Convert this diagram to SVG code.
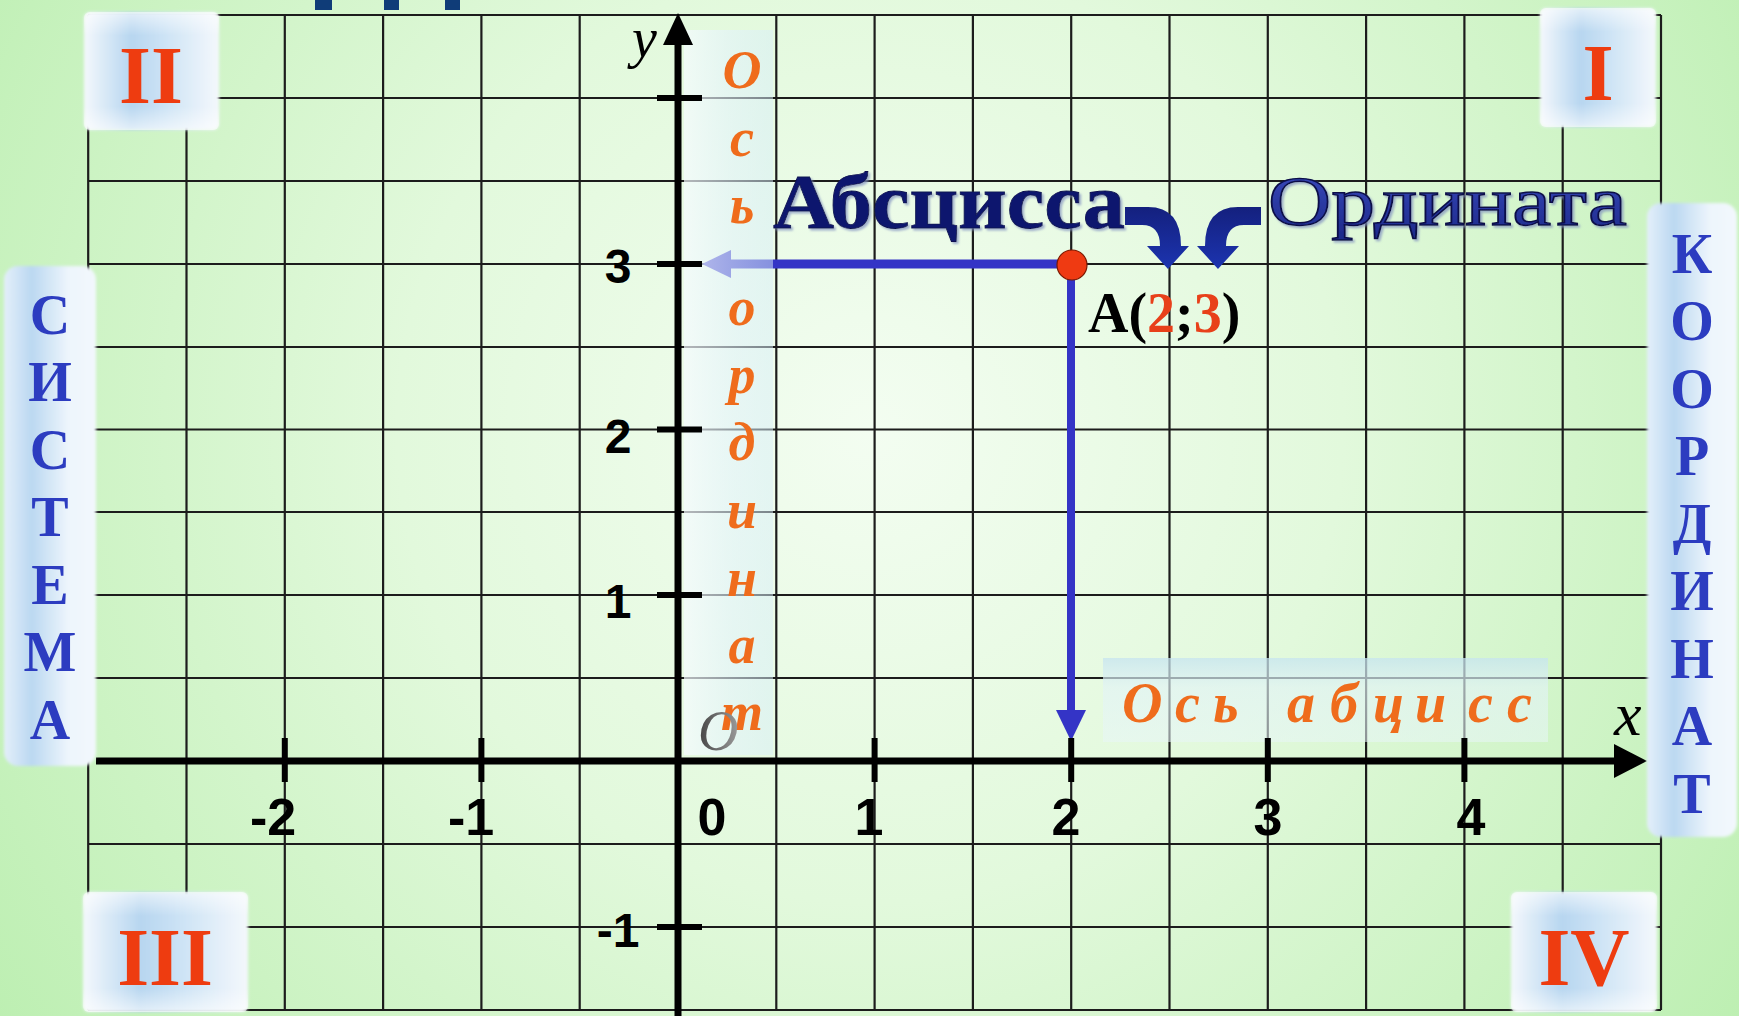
<svg xmlns="http://www.w3.org/2000/svg" width="1739" height="1016" viewBox="0 0 1739 1016">
<defs>
<radialGradient id="bg" cx="870" cy="430" r="1050" gradientUnits="userSpaceOnUse">
<stop offset="0" stop-color="#f3fdf1"/>
<stop offset="0.45" stop-color="#e2f9dc"/>
<stop offset="1" stop-color="#bdefb2"/>
</radialGradient>
<linearGradient id="qbox" x1="0" y1="0" x2="1" y2="0">
<stop offset="0" stop-color="#f4f8fc"/>
<stop offset="0.35" stop-color="#b7d6f0"/>
<stop offset="0.6" stop-color="#cde3f5"/>
<stop offset="1" stop-color="#f4f8fc"/>
</linearGradient>
<linearGradient id="qfade" x1="0" y1="0" x2="0" y2="1">
<stop offset="0" stop-color="#ffffff" stop-opacity="0.6"/>
<stop offset="0.2" stop-color="#ffffff" stop-opacity="0"/>
<stop offset="0.8" stop-color="#ffffff" stop-opacity="0"/>
<stop offset="1" stop-color="#ffffff" stop-opacity="0.6"/>
</linearGradient>
<linearGradient id="vbox" x1="0" y1="0" x2="1" y2="0">
<stop offset="0" stop-color="#e4effa"/>
<stop offset="0.3" stop-color="#bbd8f1"/>
<stop offset="0.7" stop-color="#edf5fc"/>
<stop offset="1" stop-color="#f3f8fd"/>
</linearGradient>
<linearGradient id="strip" x1="0" y1="0" x2="1" y2="0">
<stop offset="0" stop-color="#f6fbff" stop-opacity="0.7"/>
<stop offset="0.5" stop-color="#e4f3fb" stop-opacity="0.6"/>
<stop offset="1" stop-color="#d8eef8" stop-opacity="0.5"/>
</linearGradient>
<linearGradient id="hstrip" x1="0" y1="0" x2="0" y2="1">
<stop offset="0" stop-color="#c6e4f0" stop-opacity="0.75"/>
<stop offset="0.35" stop-color="#e2f3f6" stop-opacity="0.65"/>
<stop offset="1" stop-color="#e8f6f8" stop-opacity="0.55"/>
</linearGradient>
<linearGradient id="ordg" x1="0" y1="0" x2="0" y2="1">
<stop offset="0" stop-color="#3c4cc0"/>
<stop offset="1" stop-color="#1c2888"/>
</linearGradient>
<linearGradient id="curv" x1="0" y1="0" x2="0" y2="1">
<stop offset="0" stop-color="#14207e"/>
<stop offset="1" stop-color="#1c34b0"/>
</linearGradient>
<linearGradient id="ogray" x1="0" y1="0" x2="1" y2="0">
<stop offset="0" stop-color="#444"/>
<stop offset="1" stop-color="#9a9a9a"/>
</linearGradient>
<filter id="soft" x="-10%" y="-10%" width="120%" height="120%">
<feGaussianBlur stdDeviation="1.5"/>
</filter>
<filter id="shadow" x="-5%" y="-20%" width="110%" height="140%">
<feDropShadow dx="2" dy="2" stdDeviation="1" flood-color="#8090c0" flood-opacity="0.7"/>
</filter>
</defs>
<style>
.grid line{stroke:#1c1c1c;stroke-width:2.2}
.axis{stroke:#000;stroke-width:7}
.tick{stroke:#000;stroke-width:6}
.num{font-family:"Liberation Sans",Arial,sans-serif;font-weight:bold;fill:#000}
.roman{font-family:"Liberation Serif","Times New Roman",serif;font-weight:bold;fill:#ee3c10;text-anchor:middle}
.vword{font-family:"Liberation Serif","Times New Roman",serif;font-weight:bold;fill:#2c3cc0;font-size:56px;text-anchor:middle}
.orange{font-family:"Liberation Serif","Times New Roman",serif;font-weight:bold;font-style:italic;fill:#ef6c1c}
.blue{fill:#3434c6}
</style>

<rect x="0" y="0" width="1739" height="1016" fill="url(#bg)"/>

<g id="title-fragments" fill="#0f3c78">
<rect x="315" y="0" width="17" height="10"/>
<rect x="384" y="0" width="15" height="10"/>
<rect x="445" y="0" width="15" height="10"/>
</g>

<g id="grid" class="grid">
<line x1="88" y1="15" x2="1661" y2="15"/>
<line x1="88" y1="98" x2="1661" y2="98"/>
<line x1="88" y1="181" x2="1661" y2="181"/>
<line x1="88" y1="264" x2="1661" y2="264"/>
<line x1="88" y1="347" x2="1661" y2="347"/>
<line x1="88" y1="429.5" x2="1661" y2="429.5"/>
<line x1="88" y1="512" x2="1661" y2="512"/>
<line x1="88" y1="595" x2="1661" y2="595"/>
<line x1="88" y1="678" x2="1661" y2="678"/>
<line x1="88" y1="844" x2="1661" y2="844"/>
<line x1="88" y1="927" x2="1661" y2="927"/>
<line x1="88" y1="1010" x2="1661" y2="1010"/>
<line x1="88.2" y1="15" x2="88.2" y2="1010"/>
<line x1="186.5" y1="15" x2="186.5" y2="1010"/>
<line x1="284.8" y1="15" x2="284.8" y2="1010"/>
<line x1="383.1" y1="15" x2="383.1" y2="1010"/>
<line x1="481.4" y1="15" x2="481.4" y2="1010"/>
<line x1="579.7" y1="15" x2="579.7" y2="1010"/>
<line x1="776.3" y1="15" x2="776.3" y2="1010"/>
<line x1="874.6" y1="15" x2="874.6" y2="1010"/>
<line x1="972.9" y1="15" x2="972.9" y2="1010"/>
<line x1="1071.2" y1="15" x2="1071.2" y2="1010"/>
<line x1="1169.5" y1="15" x2="1169.5" y2="1010"/>
<line x1="1267.8" y1="15" x2="1267.8" y2="1010"/>
<line x1="1366.1" y1="15" x2="1366.1" y2="1010"/>
<line x1="1464.4" y1="15" x2="1464.4" y2="1010"/>
<line x1="1562.7" y1="15" x2="1562.7" y2="1010"/>
<line x1="1661" y1="15" x2="1661" y2="1010"/>
</g>

<g id="connectors">
<line x1="1073" y1="264" x2="728" y2="264" stroke="#3434c6" stroke-width="9"/>
<polygon points="702,264 731,250 731,278" class="blue"/>
<line x1="1071" y1="264" x2="1071" y2="714" stroke="#3434c6" stroke-width="8"/>
<polygon points="1071,741 1056,710 1086,710" class="blue"/>
<path d="M1125,207 L1148,207 Q1181,207 1181,246 L1189,246 L1168,269 L1147,246 L1160,246 Q1160,225 1142,225 L1125,225 Z" fill="url(#curv)"/>
<path d="M1261,207 L1238,207 Q1205,207 1205,246 L1197,246 L1218,269 L1239,246 L1226,246 Q1226,225 1244,225 L1261,225 Z" fill="url(#curv)"/>
</g>

<g id="ordinate-strip">
<rect x="684" y="30" width="89" height="725" fill="url(#strip)"/>
</g>
<g id="abscissa-strip">
<rect x="1103" y="658" width="445" height="84" fill="url(#hstrip)"/>
</g>

<g id="axes">
<line class="axis" x1="678" y1="1016" x2="678" y2="40"/>
<polygon points="678,13 663,45 693,45" fill="#000"/>
<line class="axis" x1="96" y1="761" x2="1618" y2="761"/>
<polygon points="1647,761 1614,744 1614,778" fill="#000"/>
<line class="tick" x1="657" y1="98" x2="702" y2="98"/>
<line class="tick" x1="657" y1="264" x2="702" y2="264"/>
<line class="tick" x1="657" y1="429.5" x2="702" y2="429.5"/>
<line class="tick" x1="657" y1="595" x2="702" y2="595"/>
<line class="tick" x1="657" y1="927" x2="702" y2="927"/>
<line class="tick" x1="284.8" y1="738" x2="284.8" y2="782"/>
<line class="tick" x1="481.4" y1="738" x2="481.4" y2="782"/>
<line class="tick" x1="874.6" y1="738" x2="874.6" y2="782"/>
<line class="tick" x1="1071.2" y1="738" x2="1071.2" y2="782"/>
<line class="tick" x1="1267.8" y1="738" x2="1267.8" y2="782"/>
<line class="tick" x1="1464.4" y1="738" x2="1464.4" y2="782"/>
</g>

<g id="axis-labels">
<text class="num" font-size="48" x="618" y="283" text-anchor="middle">3</text>
<text class="num" font-size="48" x="618" y="453" text-anchor="middle">2</text>
<text class="num" font-size="48" x="618" y="618" text-anchor="middle">1</text>
<text class="num" font-size="48" x="618" y="947" text-anchor="middle">-1</text>
<text class="num" font-size="52" x="273" y="835" text-anchor="middle">-2</text>
<text class="num" font-size="52" x="471" y="835" text-anchor="middle">-1</text>
<text class="num" font-size="52" x="712" y="835" text-anchor="middle">0</text>
<text class="num" font-size="52" x="869" y="835" text-anchor="middle">1</text>
<text class="num" font-size="52" x="1066" y="835" text-anchor="middle">2</text>
<text class="num" font-size="52" x="1268" y="835" text-anchor="middle">3</text>
<text class="num" font-size="52" x="1471" y="835" text-anchor="middle">4</text>
<text x="632" y="57" font-family="Liberation Serif,serif" font-style="italic" font-size="56" fill="#000">y</text>
<text x="1614" y="735" font-family="Liberation Serif,serif" font-style="italic" font-size="62" fill="#000">x</text>
</g>

<g id="ordinate-label">
<text class="orange" font-size="54" x="742 742 742 742 742 742 742 742 742 742 742" y="88 156 223 274 325 393 460 528 596 663 730" text-anchor="middle">Ось ординат</text>
</g>
<g id="origin">
<text x="698" y="750" font-family="Liberation Serif,serif" font-style="italic" font-size="56" fill="url(#ogray)">O</text>
</g>
<g id="abscissa-label">
<text class="orange" font-size="56" x="1122 1175 1213 1250 1287 1330 1373 1415 1468 1507" y="722">Ось абцисс</text>
</g>

<g id="point-A">
<circle cx="1072" cy="265" r="15" fill="#ef3a12" stroke="#7a1800" stroke-width="1.2"/>
<text x="1088" y="332" font-family="Liberation Serif,serif" font-weight="bold" font-size="56" fill="#000">A(<tspan fill="#e8401a">2</tspan>;<tspan fill="#e8401a">3</tspan>)</text>
</g>

<g id="abscissa-word" filter="url(#shadow)">
<text x="773" y="228" font-family="Liberation Serif,serif" font-weight="bold" font-size="78" fill="#0d166e" stroke="#0a0f50" stroke-width="0.8" textLength="352" lengthAdjust="spacingAndGlyphs">Абсцисса</text>
</g>
<g id="ordinate-word" filter="url(#shadow)">
<text x="1268" y="225" font-family="Liberation Serif,serif" font-size="70" fill="url(#ordg)" stroke="#0a1048" stroke-width="1.5" textLength="359" lengthAdjust="spacingAndGlyphs">Ордината</text>
</g>

<g id="quadrant-II">
<rect x="84" y="12" width="135" height="118" rx="6" fill="url(#qbox)" filter="url(#soft)"/>
<rect x="84" y="12" width="135" height="118" rx="6" fill="url(#qfade)"/>
<text class="roman" x="151" y="103" font-size="82">II</text>
</g>
<g id="quadrant-I">
<rect x="1540" y="8" width="116" height="119" rx="6" fill="url(#qbox)" filter="url(#soft)"/>
<rect x="1540" y="8" width="116" height="119" rx="6" fill="url(#qfade)"/>
<text class="roman" x="1598" y="100" font-size="80">I</text>
</g>
<g id="quadrant-III">
<rect x="83" y="892" width="165" height="120" rx="6" fill="url(#qbox)" filter="url(#soft)"/>
<rect x="83" y="892" width="165" height="120" rx="6" fill="url(#qfade)"/>
<text class="roman" x="165" y="985" font-size="82">III</text>
</g>
<g id="quadrant-IV">
<rect x="1511" y="892" width="146" height="120" rx="6" fill="url(#qbox)" filter="url(#soft)"/>
<rect x="1511" y="892" width="146" height="120" rx="6" fill="url(#qfade)"/>
<text class="roman" x="1584" y="985" font-size="82">IV</text>
</g>

<g id="sistema">
<rect x="4" y="266" width="92" height="500" rx="14" fill="url(#vbox)" filter="url(#soft)"/>
<text class="vword" x="50 50 50 50 50 50 50" y="334 401 469 536 604 671 739">СИСТЕМА</text>
</g>
<g id="koordinat">
<rect x="1647" y="203" width="90" height="634" rx="14" fill="url(#vbox)" filter="url(#soft)"/>
<text class="vword" x="1692 1692 1692 1692 1692 1692 1692 1692 1692" y="273 340 408 475 543 610 678 745 813">КООРДИНАТ</text>
</g>
</svg>
